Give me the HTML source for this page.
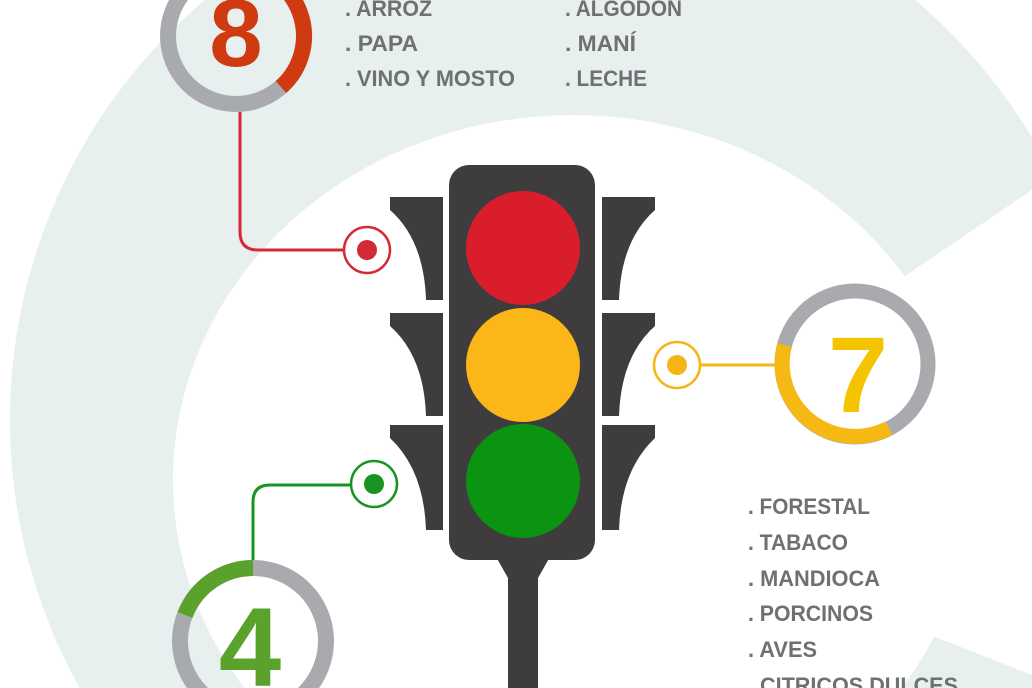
<!DOCTYPE html>
<html><head><meta charset="utf-8"><style>
html,body{margin:0;padding:0;background:#fff;width:1032px;height:688px;overflow:hidden}
svg{display:block}
text{font-family:"Liberation Sans",sans-serif;font-weight:bold}
.t{fill:#6e7072;font-size:22px}
</style></head><body>
<svg width="1032" height="688" viewBox="0 0 1032 688" xmlns="http://www.w3.org/2000/svg">
<rect width="1032" height="688" fill="#fff"/>
<!-- big C ring -->
<circle cx="560" cy="420" r="550" fill="#e7f0ef"/>
<ellipse cx="573" cy="480" rx="400" ry="365" fill="#fff"/>
<polygon points="860,300 905,276 1032,190 1032,675 905,625 860,620" fill="#fff"/>
<!-- ring 8 -->
<circle cx="236" cy="36" r="68" fill="none" stroke="#a9aaad" stroke-width="16"/>
<path d="M236,-32 A68,68 0 0 1 281,87" fill="none" stroke="#cf3a10" stroke-width="16"/>
<text x="236" y="66" font-size="96" fill="#cf3a10" text-anchor="middle">8</text>
<text class="t" x="345" y="16" textLength="87" lengthAdjust="spacingAndGlyphs">. ARROZ</text>
<text class="t" x="345" y="51" textLength="73" lengthAdjust="spacingAndGlyphs">. PAPA</text>
<text class="t" x="345" y="86" textLength="170" lengthAdjust="spacingAndGlyphs">. VINO Y MOSTO</text>
<text class="t" x="565" y="16" textLength="117" lengthAdjust="spacingAndGlyphs">. ALGODON</text>
<text class="t" x="565" y="51" textLength="71" lengthAdjust="spacingAndGlyphs">. MANÍ</text>
<text class="t" x="565" y="86" textLength="82" lengthAdjust="spacingAndGlyphs">. LECHE</text>
<!-- red connector -->
<path d="M240,112 V232 Q240,250 258,250 H367" fill="none" stroke="#d42a35" stroke-width="3"/>
<circle cx="367" cy="250" r="23" fill="#fff" stroke="#d42a35" stroke-width="2.5"/>
<circle cx="367" cy="250" r="10" fill="#d42a35"/>
<!-- traffic light -->
<g fill="#3e3c3d">
<path d="M390,197 H443 V300 H426 Q424,240 390,210 Z"/>
<path d="M390,313 H443 V416 H426 Q424,356 390,326 Z"/>
<path d="M390,425 H443 V530 H426 Q424,470 390,438 Z"/>
<path d="M655,197 H602 V300 H619 Q621,240 655,210 Z"/>
<path d="M655,313 H602 V416 H619 Q621,356 655,326 Z"/>
<path d="M655,425 H602 V530 H619 Q621,470 655,438 Z"/>
<rect x="449" y="165" width="146" height="395" rx="20"/>
<path d="M495,555 H551 L538,578 V688 H508 V578 Z"/>
</g>
<circle cx="523" cy="248" r="57" fill="#d91d2b"/>
<circle cx="523" cy="365" r="57" fill="#fbb617"/>
<circle cx="523" cy="481" r="57" fill="#0a9412"/>
<!-- yellow -->
<line x1="677" y1="365" x2="784" y2="365" stroke="#f5b515" stroke-width="3"/>
<circle cx="677" cy="365" r="23" fill="#fff" stroke="#f5b515" stroke-width="2.5"/>
<circle cx="677" cy="365" r="10" fill="#f5b515"/>
<circle cx="855" cy="364" r="73" fill="none" stroke="#a9aaad" stroke-width="15"/>
<path d="M889,428 A73,73 0 0 1 784.5,345" fill="none" stroke="#f6b913" stroke-width="15"/>
<text x="858" y="412" font-size="108" fill="#f5c400" text-anchor="middle">7</text>
<text class="t" x="748" y="514" textLength="122" lengthAdjust="spacingAndGlyphs">. FORESTAL</text>
<text class="t" x="748" y="550" textLength="100" lengthAdjust="spacingAndGlyphs">. TABACO</text>
<text class="t" x="748" y="586" textLength="132" lengthAdjust="spacingAndGlyphs">. MANDIOCA</text>
<text class="t" x="748" y="621" textLength="125" lengthAdjust="spacingAndGlyphs">. PORCINOS</text>
<text class="t" x="748" y="657" textLength="69" lengthAdjust="spacingAndGlyphs">. AVES</text>
<text class="t" x="748" y="693" textLength="210" lengthAdjust="spacingAndGlyphs">. CITRICOS DULCES</text>
<!-- green -->
<path d="M253,562 V502 Q253,485 270,485 H374" fill="none" stroke="#1a9420" stroke-width="3"/>
<circle cx="374" cy="484" r="23" fill="#fff" stroke="#1a9420" stroke-width="2.5"/>
<circle cx="374" cy="484" r="10" fill="#1a9420"/>
<circle cx="253" cy="641" r="73" fill="none" stroke="#a9aaad" stroke-width="16"/>
<path d="M185,615 A73,73 0 0 1 253,568" fill="none" stroke="#5ba22c" stroke-width="16"/>
<text x="250" y="686" font-size="112" fill="#5ba22c" text-anchor="middle">4</text>
</svg>
</body></html>
